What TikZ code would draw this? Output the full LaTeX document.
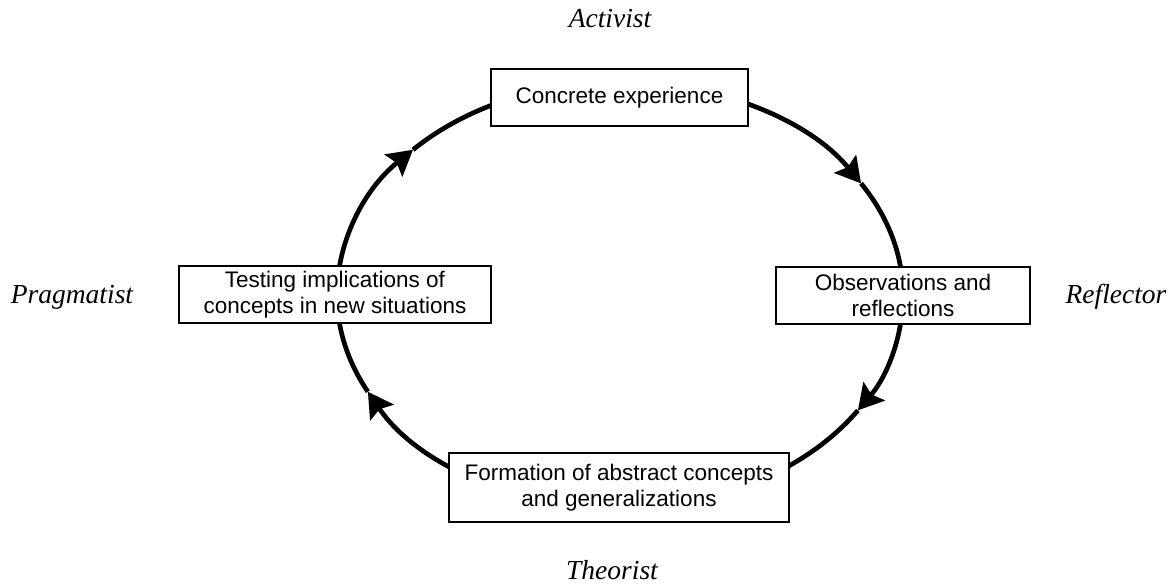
\documentclass[tikz,border=0pt]{standalone}
\usepackage{fontspec}
\setmainfont{Liberation Serif}
\newfontfamily\boxfont{Liberation Sans}
\usetikzlibrary{arrows.meta}
\begin{document}
\begin{tikzpicture}[x=1pt,y=1pt,
  cyc/.style={line width=4.7pt},
  cyctip/.style={line width=4.7pt,-{Stealth[length=25pt,width=28pt,inset=4pt]}},
  stagebox/.style={draw,line width=1.3pt,fill=white,align=center,inner sep=0pt,
    font=\boxfont\fontsize{22.5}{25.5}\selectfont},
  style/.style={font=\itshape\fontsize{27.5}{30}\selectfont,anchor=base,inner sep=0pt}]
\path[use as bounding box] (0,0) rectangle (1174,-586);
\coordinate (c) at (620,-295);
\def\rx{283}\def\ry{213}
\coordinate (eT) at ([shift={(90:\rx pt and \ry pt)}]c);
\coordinate (eR) at ([shift={(0:\rx pt and \ry pt)}]c);
\coordinate (eB) at ([shift={(-90:\rx pt and \ry pt)}]c);
\coordinate (eL) at ([shift={(180:\rx pt and \ry pt)}]c);
\coordinate (a1) at ([shift={(31.6:\rx pt and \ry pt)}]c);
\coordinate (a2) at ([shift={(-32.8:\rx pt and \ry pt)}]c);
\coordinate (a3) at ([shift={(-153:\rx pt and \ry pt)}]c);
\coordinate (a4) at ([shift={(137:\rx pt and \ry pt)}]c);
% cycle
\draw[cyctip] (eT) arc[start angle=90,end angle=31.6,x radius=\rx pt,y radius=\ry pt];
\draw[cyc] (a1) arc[start angle=31.6,end angle=0,x radius=\rx pt,y radius=\ry pt];
\draw[cyctip] (eR) arc[start angle=0,end angle=-32.8,x radius=\rx pt,y radius=\ry pt];
\draw[cyc] (a2) arc[start angle=-32.8,end angle=-90,x radius=\rx pt,y radius=\ry pt];
\draw[cyctip] (eB) arc[start angle=-90,end angle=-153,x radius=\rx pt,y radius=\ry pt];
\draw[cyc] (a3) arc[start angle=-153,end angle=-180,x radius=\rx pt,y radius=\ry pt];
\draw[cyctip] (eL) arc[start angle=180,end angle=137,x radius=\rx pt,y radius=\ry pt];
\draw[cyc] (a4) arc[start angle=137,end angle=90,x radius=\rx pt,y radius=\ry pt];
% boxes
\node[stagebox,minimum width=257pt,minimum height=57pt] (top) at (619.5,-97.5) {Concrete experience};
\node[stagebox,minimum width=254pt,minimum height=57pt] (right) at (903,-295.5) {Observations and\\reflections};
\node[stagebox,minimum width=312pt,minimum height=57pt] (left) at (335,-294.5) {Testing implications of\\concepts in new situations};
\node[stagebox,minimum width=340pt,minimum height=69pt] (bottom) at (619,-487.5) {Formation of abstract concepts\\and generalizations};
% styles
\node[style] (act) at (610,-28) {Activist};
\node[style] (ref) at (1116,-303) {Reflector};
\node[style] (the) at (612,-579) {Theorist};
\node[style] (pra) at (72,-303) {Pragmatist};
\end{tikzpicture}
\end{document}
